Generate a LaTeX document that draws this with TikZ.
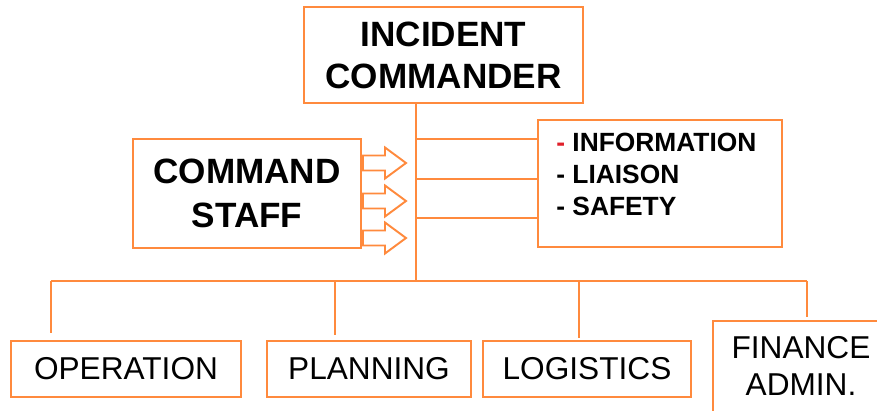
\documentclass[tikz,border=0pt]{standalone}
\usepackage{fontspec}
\setmainfont{Liberation Sans}
\usetikzlibrary{positioning}
\definecolor{icsorange}{HTML}{FF8A3D}
\definecolor{icsred}{HTML}{E0202A}

\begin{document}
\begin{tikzpicture}[x=0.02cm, y=-0.02cm,
  box/.style={draw=icsorange, line width=1.1pt, fill=white, align=center, inner sep=0pt},
  link/.style={draw=icsorange, line width=1.1pt},
  bigtxt/.style={font=\fontsize{20}{24}\selectfont\bfseries},
  subtxt/.style={font=\fontsize{18}{21}\selectfont}]

  \useasboundingbox (0,0) rectangle (877,410);
  \clip (0,0) rectangle (877,410);

  % ---- Top and staff boxes ----
  \node[box, bigtxt, minimum width=5.58cm, minimum height=1.92cm] (commander) at (443.5,55) {INCIDENT\\COMMANDER};
  \node[box, font=\fontsize{20}{25}\selectfont\bfseries, minimum width=4.56cm, minimum height=2.18cm] (cmdstaff) at (247,193.5) {COMMAND\\STAFF};
  \node[box, minimum width=4.88cm, minimum height=2.54cm] (staffbox) at (660,183.5) {};
  \node[font=\fontsize{15}{18}\selectfont\bfseries, align=left, anchor=north west, inner sep=0pt] (stafflist) at (556,133)
    {{\color{icsred}-} INFORMATION\\- LIAISON\\- SAFETY};

  % ---- Section boxes ----
  \node[box, subtxt, minimum width=4.6cm, minimum height=1.12cm] (operation) at (126,369) {OPERATION};
  \node[box, subtxt, minimum width=4.08cm, minimum height=1.12cm] (planning) at (369,369) {PLANNING};
  \node[box, subtxt, minimum width=4.16cm, minimum height=1.12cm] (logistics) at (587,369) {LOGISTICS};
  \node[box, minimum width=3.64cm, minimum height=1.98cm] (finance) at (804,370.5) {};
  \node[subtxt, align=center, inner sep=0pt] (financetxt) at (801,366) {FINANCE\\ADMIN.};

  % ---- Trunk and bus ----
  \coordinate (trunktop) at (416,103);
  \coordinate (trunkbot) at (416,281);
  \draw[link] (trunktop) -- (trunkbot);
  \draw[link] (51,281) -- (807,281);

  % ---- Links to staff box ----
  \foreach \yy in {139,179,218}
    \draw[link] (416,\yy) -- (staffbox.west |- 0,\yy);

  % ---- Drops to sections ----
  \draw[link] (51,281) -- (51,333);
  \draw[link] (335,281) -- (335,335);
  \draw[link] (579,281) -- (579,338);
  \draw[link] (807,281) -- (807,317);

  % ---- Block arrows ----
  \foreach \yy in {163,201,238}
    \draw[icsorange, line width=1.1pt, fill=white]
      (363,\yy-7.5) -- (385,\yy-7.5) -- (385,\yy-15.5) -- (406,\yy)
      -- (385,\yy+15.5) -- (385,\yy+7.5) -- (363,\yy+7.5) -- cycle;

\end{tikzpicture}
\end{document}
